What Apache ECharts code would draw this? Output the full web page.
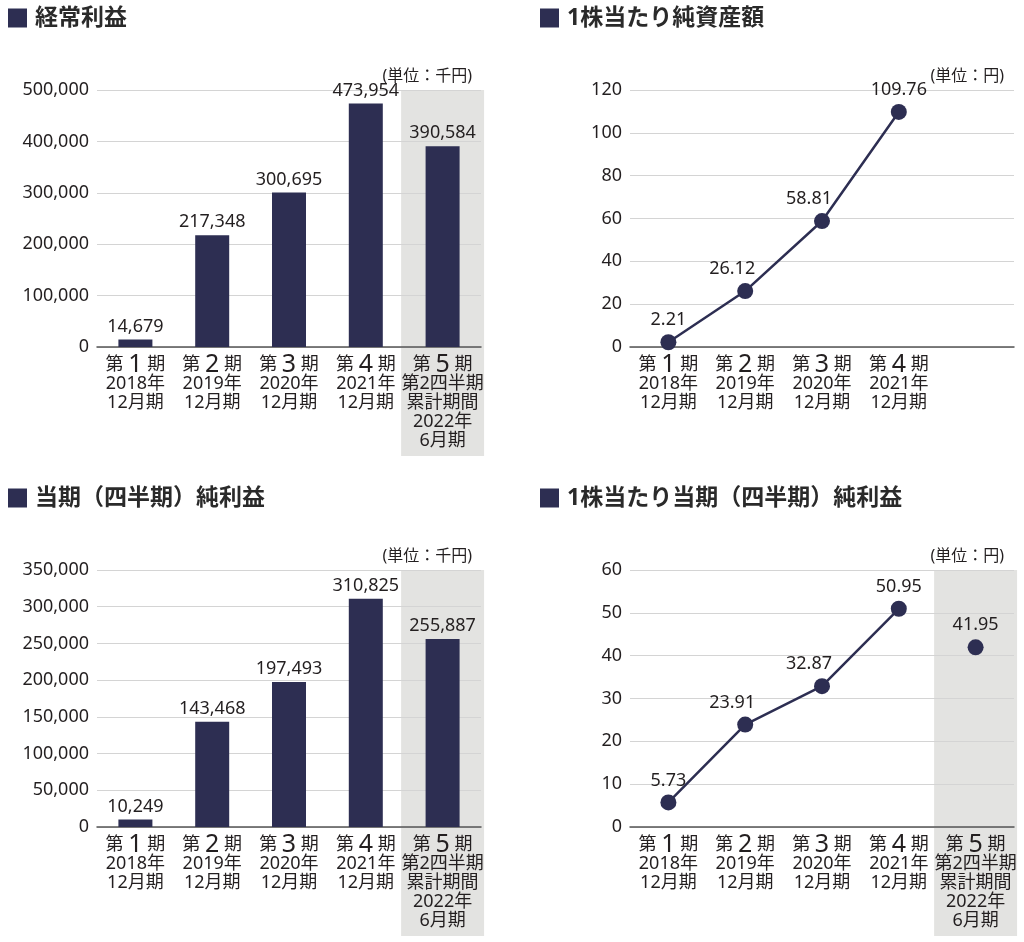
<!DOCTYPE html>
<html>
<head>
<meta charset="utf-8">
<script src="https://cdn.jsdelivr.net/npm/echarts@6/dist/echarts.min.js"></script>
<style>
html,body{margin:0;padding:0;background:#fff;}
#main{width:1024px;height:942px;}
</style>
</head>
<body>
<div id="main"></div>
<script>
// ---- data ----
const titles = ['経常利益', '1株当たり純資産額', '当期（四半期）純利益', '1株当たり当期（四半期）純利益'];
const units = ['(単位：千円)', '(単位：円)', '(単位：千円)', '(単位：円)'];
const categories = ['第1期\n2018年\n12月期', '第2期\n2019年\n12月期', '第3期\n2020年\n12月期', '第4期\n2021年\n12月期', '第5期\n第2四半期\n累計期間\n2022年\n6月期'];
const categoriesBps = ['第1期\n2018年\n12月期', '第2期\n2019年\n12月期', '第3期\n2020年\n12月期', '第4期\n2021年\n12月期', ''];
const ordinaryProfit = [14679, 217348, 300695, 473954, 390584];
const bookValuePerShare = [2.21, 26.12, 58.81, 109.76, null];
const netIncome = [10249, 143468, 197493, 310825, 255887];
const epsAnnual = [5.73, 23.91, 32.87, 50.95, null];
const epsQuarter = [null, null, null, null, 41.95];
const yMax = [500000, 120, 350000, 60];
const yStep = [100000, 20, 50000, 10];

// ---- style ----
const NAVY = '#2d2e52';
const TXT = '#231f20';
const FONT = '"Noto Sans", "Noto Sans CJK JP", sans-serif';

const chart = echarts.init(document.getElementById('main'), null, {renderer: 'canvas'});

function comma(v) { return String(v).replace(/\B(?=(\d{3})+(?!\d))/g, ','); }
function catFmt(v) {
  if (!v) return '';
  const parts = v.split('\n');
  const m = parts[0].match(/第(\d)期/);
  return '{a|第 }{n|' + m[1] + '}{a| 期}\n' + parts.slice(1).map(s => '{b|' + s + '}').join('\n');
}

const gridPos = [
  {left: 97, top: 90, width: 384, height: 257},
  {left: 630, top: 90, width: 384, height: 257},
  {left: 97, top: 570, width: 384, height: 257},
  {left: 630, top: 570, width: 384, height: 257}
];

const richCat = {
  a: {fontSize: 18, lineHeight: 19, color: TXT, fontFamily: FONT},
  n: {fontSize: 25, lineHeight: 19, color: TXT, fontFamily: FONT},
  b: {fontSize: 18, lineHeight: 19, color: TXT, fontFamily: FONT}
};

const xAxes = [0, 1, 2, 3].map(i => ({
  type: 'category', gridIndex: i,
  data: i === 1 ? categoriesBps : categories,
  axisTick: {show: false},
  axisLine: {lineStyle: {color: '#555', width: 1.5}},
  axisLabel: {margin: 8, formatter: catFmt, rich: richCat, interval: 0, color: TXT}
}));

const yAxes = [0, 1, 2, 3].map(i => ({
  type: 'value', gridIndex: i, min: 0, max: yMax[i], interval: yStep[i],
  axisLine: {show: false}, axisTick: {show: false},
  splitLine: {lineStyle: {color: '#d4d4d4', width: 1}},
  axisLabel: {margin: 8, fontSize: 18, color: TXT, fontFamily: FONT, formatter: v => comma(v)}
}));

const titleOpts = titles.map((t, i) => ({
  left: i % 2 === 0 ? 8 : 540,
  top: i < 2 ? 6 : 486,
  padding: 0,
  text: '{sq| }{t|' + t + '}',
  textStyle: {
    rich: {
      sq: {width: 19, height: 19, backgroundColor: NAVY, lineHeight: 24},
      t: {fontSize: 23, fontWeight: 'bold', color: '#2a2a2a', fontFamily: FONT, padding: [0, 0, 0, 8], lineHeight: 24}
    }
  }
}));

const barLabel = {show: true, position: 'top', distance: 4, fontSize: 18, color: TXT, fontFamily: FONT, formatter: p => comma(p.value)};
function lineLabel() {
  return {show: true, position: 'top', distance: 5, fontSize: 18, color: TXT, fontFamily: FONT,
    formatter: p => p.value.toFixed(2)};
}
// labels of points in the middle of a rising line sit a little to the left of the point
function lineData(arr) {
  let first = arr.findIndex(v => v != null), last = arr.length - 1;
  while (last >= 0 && arr[last] == null) last--;
  return arr.map((v, k) => (v == null ? null :
    (k > first && k < last ? {value: v, label: {offset: [-13, 0]}} : v)));
}

chart.setOption({
  animation: false,
  backgroundColor: '#fff',
  title: titleOpts,
  grid: gridPos,
  xAxis: xAxes,
  yAxis: yAxes,
  series: [
    {type: 'bar', xAxisIndex: 0, yAxisIndex: 0, data: ordinaryProfit, barWidth: 34, itemStyle: {color: NAVY}, label: barLabel},
    {type: 'line', xAxisIndex: 1, yAxisIndex: 1, data: lineData(bookValuePerShare), symbol: 'circle', symbolSize: 16,
     itemStyle: {color: NAVY}, lineStyle: {color: NAVY, width: 2.5}, label: lineLabel()},
    {type: 'bar', xAxisIndex: 2, yAxisIndex: 2, data: netIncome, barWidth: 34, itemStyle: {color: NAVY}, label: barLabel},
    {type: 'line', xAxisIndex: 3, yAxisIndex: 3, data: lineData(epsAnnual), symbol: 'circle', symbolSize: 16,
     itemStyle: {color: NAVY}, lineStyle: {color: NAVY, width: 2.5}, label: lineLabel()},
    {type: 'line', xAxisIndex: 3, yAxisIndex: 3, data: epsQuarter, symbol: 'circle', symbolSize: 16,
     itemStyle: {color: NAVY}, lineStyle: {color: NAVY, width: 2.5}, label: lineLabel()}
  ]
});

// shaded band behind the 5th (quarterly) period, and unit labels
const graphics = [];
[0, 2, 3].forEach(i => {
  const c5 = chart.convertToPixel({xAxisIndex: i}, 4);
  const c4 = chart.convertToPixel({xAxisIndex: i}, 3);
  const w = (c5 - c4) * 1.08;
  const yTop = chart.convertToPixel({yAxisIndex: i}, yMax[i]);
  const y0 = chart.convertToPixel({yAxisIndex: i}, 0);
  graphics.push({type: 'rect', z: -10, silent: true,
    shape: {x: c5 - w / 2, y: yTop, width: w, height: y0 - yTop + 109},
    style: {fill: '#e3e3e1'}});
});
[0, 1, 2, 3].forEach(i => {
  const g = gridPos[i];
  graphics.push({type: 'text', z: 10, silent: true,
    style: {text: units[i], x: g.left + g.width - 9 + (i % 2 ? -1 : 0), y: g.top - 14, align: 'right', verticalAlign: 'middle',
      font: '16px ' + FONT, fill: TXT}});
});
chart.setOption({graphic: graphics});
</script>
</body>
</html>
